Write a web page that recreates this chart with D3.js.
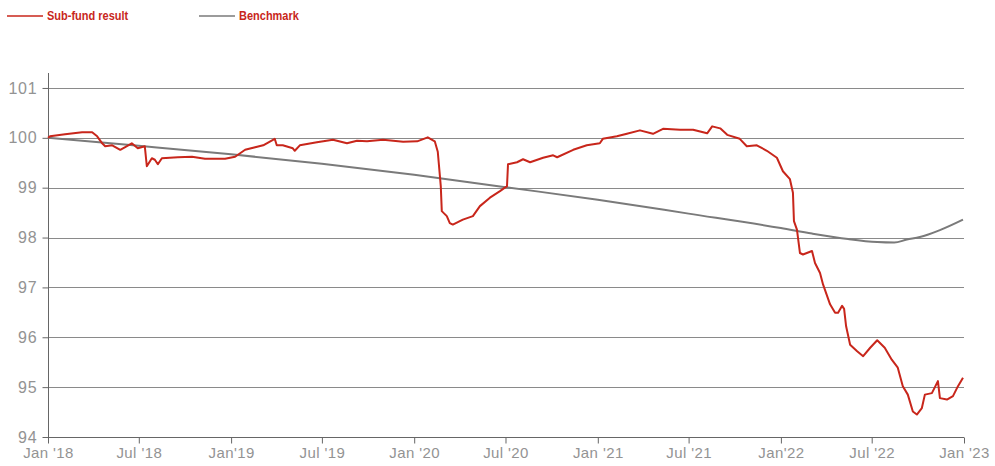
<!DOCTYPE html>
<html>
<head>
<meta charset="utf-8">
<script src="https://cdn.jsdelivr.net/npm/d3@7"></script>
<style>
  body { margin: 0; background: #fff; }
  .tick text { font-family: "Liberation Sans", Arial, sans-serif; fill: #939393; }
  .xaxis .tick text { font-size: 15px; letter-spacing: 0.4px; }
  .yaxis .tick text { font-size: 16px; letter-spacing: 0.8px; }
  .legend text { font-family: "Liberation Sans", sans-serif; font-size: 12.5px; font-weight: bold; fill: #c8261b; }
</style>
</head>
<body>
<script>
// sub-fund result
var fundDates = ["2018-01-01","2018-01-05","2018-02-04","2018-03-10","2018-03-30","2018-04-09","2018-04-19","2018-04-25","2018-05-09","2018-05-25","2018-06-03","2018-06-17","2018-06-29","2018-07-13","2018-07-17","2018-07-27","2018-08-02","2018-08-08","2018-08-16","2018-09-17","2018-10-15","2018-11-10","2018-12-20","2019-01-09","2019-01-29","2019-02-18","2019-03-06","2019-03-29","2019-04-02","2019-04-14","2019-05-04","2019-05-08","2019-05-18","2019-06-21","2019-07-23","2019-08-20","2019-09-09","2019-09-29","2019-10-31","2019-12-10","2020-01-07","2020-01-28","2020-02-11","2020-02-17","2020-02-23","2020-02-25","2020-03-06","2020-03-12","2020-03-18","2020-04-07","2020-04-27","2020-05-11","2020-05-31","2020-06-20","2020-07-04","2020-07-06","2020-07-24","2020-08-05","2020-08-19","2020-09-14","2020-10-04","2020-10-12","2020-11-13","2020-12-10","2021-01-05","2021-01-11","2021-02-08","2021-02-28","2021-03-26","2021-04-21","2021-05-11","2021-06-14","2021-07-10","2021-08-07","2021-08-17","2021-09-02","2021-09-16","2021-10-11","2021-10-25","2021-11-14","2021-12-04","2021-12-24","2022-01-05","2022-01-19","2022-01-25","2022-01-27","2022-02-02","2022-02-08","2022-02-14","2022-03-04","2022-03-10","2022-03-20","2022-03-26","2022-04-09","2022-04-19","2022-04-25","2022-05-03","2022-05-07","2022-05-11","2022-05-19","2022-06-02","2022-06-14","2022-06-28","2022-07-12","2022-07-27","2022-08-10","2022-08-22","2022-09-01","2022-09-11","2022-09-21","2022-09-29","2022-10-09","2022-10-15","2022-10-29","2022-11-10","2022-11-14","2022-11-28","2022-12-10","2022-12-20","2022-12-30"];
var fundValues = [100.0,100.03,100.07,100.11,100.11,100.03,99.89,99.83,99.85,99.76,99.81,99.89,99.79,99.83,99.43,99.59,99.56,99.47,99.59,99.61,99.62,99.58,99.58,99.62,99.76,99.81,99.85,99.98,99.85,99.85,99.79,99.74,99.85,99.91,99.96,99.89,99.94,99.93,99.96,99.92,99.93,100.01,99.93,99.72,99.03,98.53,98.43,98.29,98.26,98.36,98.43,98.63,98.80,98.93,99.03,99.47,99.51,99.57,99.51,99.60,99.65,99.61,99.76,99.85,99.89,99.98,100.03,100.08,100.15,100.08,100.18,100.16,100.16,100.09,100.23,100.19,100.06,99.98,99.83,99.85,99.74,99.60,99.33,99.17,98.90,98.33,98.16,97.69,97.66,97.73,97.49,97.29,97.06,96.66,96.49,96.49,96.63,96.57,96.22,95.85,95.72,95.62,95.79,95.94,95.79,95.55,95.39,95.02,94.85,94.51,94.45,94.58,94.85,94.88,95.12,94.78,94.75,94.82,95.02,95.19];

// benchmark
var benchDates = ["2018-01-01","2018-07-01","2019-01-01","2019-07-01","2020-01-01","2020-07-01","2021-01-01","2021-07-01","2022-01-01","2022-03-04","2022-05-15","2022-07-12","2022-08-15","2022-09-09","2022-10-05","2022-11-14","2022-12-30"];
var benchValues = [100.0,99.84,99.67,99.48,99.26,99.01,98.76,98.48,98.19,98.08,97.97,97.91,97.90,97.96,98.01,98.15,98.36];

var yTicks = [94, 95, 96, 97, 98, 99, 100, 101];
var xTickDates = ["2018-01-01","2018-07-01","2019-01-01","2019-07-01","2020-01-01","2020-07-01","2021-01-01","2021-07-01","2022-01-01","2022-07-01","2023-01-01"];
var xTickLabels = ["Jan '18","Jul '18","Jan'19","Jul '19","Jan '20","Jul '20","Jan '21","Jul '21","Jan'22","Jul '22","Jan '23"];
var legendNames = ["Sub-fund result", "Benchmark"];

var width = 995, height = 466;
var parseDate = d3.timeParse("%Y-%m-%d");

var fund = fundDates.map(function(d, i) { return {date: parseDate(d), v: fundValues[i]}; });
var bench = benchDates.map(function(d, i) { return {date: parseDate(d), v: benchValues[i]}; });

var x = d3.scaleTime()
  .domain([parseDate("2018-01-01"), parseDate("2023-01-01")])
  .range([48, 964]);
var y = d3.scaleLinear().domain([94, 101.3]).range([437, 73]);

var svg = d3.select("body").append("svg")
  .attr("width", width)
  .attr("height", height);

// gridlines
svg.append("g")
  .selectAll("line")
  .data(yTicks.slice(1))
  .enter().append("line")
  .attr("x1", 48).attr("x2", 964)
  .attr("y1", function(d) { return Math.round(y(d)) + 0.5; })
  .attr("y2", function(d) { return Math.round(y(d)) + 0.5; })
  .attr("stroke", "#8a8a8a")
  .attr("stroke-width", 1);

// y axis
var yAxis = svg.append("g")
  .attr("class", "yaxis")
  .attr("transform", "translate(48.5,0)")
  .call(d3.axisLeft(y).tickValues(yTicks).tickSize(6).tickPadding(5).tickFormat(d3.format("d")));
yAxis.select(".domain").attr("stroke", "#666").attr("d", "M0," + y(101.3) + "V" + y(94));
yAxis.selectAll(".tick line").attr("stroke", "#666");

// x axis
var xAxis = svg.append("g")
  .attr("class", "xaxis")
  .attr("transform", "translate(0,437.5)")
  .call(d3.axisBottom(x)
    .tickValues(xTickDates.map(parseDate))
    .tickSize(6).tickPadding(4)
    .tickFormat(function(d, i) { return xTickLabels[i]; }));
xAxis.select(".domain").attr("stroke", "#666").attr("d", "M48,0H964");
xAxis.selectAll(".tick line").attr("stroke", "#666");

var line = d3.line()
  .x(function(d) { return x(d.date); })
  .y(function(d) { return y(d.v); });

svg.append("path")
  .datum(bench)
  .attr("fill", "none")
  .attr("stroke", "#7a7a7a")
  .attr("stroke-width", 2)
  .attr("d", line.curve(d3.curveMonotoneX));

svg.append("path")
  .datum(fund)
  .attr("fill", "none")
  .attr("stroke", "#c8261b")
  .attr("stroke-width", 2)
  .attr("stroke-linejoin", "round")
  .attr("d", line.curve(d3.curveLinear));

// legend
var legendColors = ["#c8261b", "#7a7a7a"];
var legendX = [7, 199];
var legend = svg.append("g").attr("class", "legend")
  .selectAll("g")
  .data(legendNames)
  .enter().append("g")
  .attr("transform", function(d, i) { return "translate(" + legendX[i] + ",16)"; });
legend.append("line")
  .attr("x1", 0).attr("x2", 36)
  .attr("stroke", function(d, i) { return legendColors[i]; })
  .attr("stroke-width", 1.5);
legend.append("text")
  .attr("transform", "translate(40,0) scale(0.88,1)")
  .attr("dy", "0.35em")
  .text(function(d) { return d; });
</script>
</body>
</html>
